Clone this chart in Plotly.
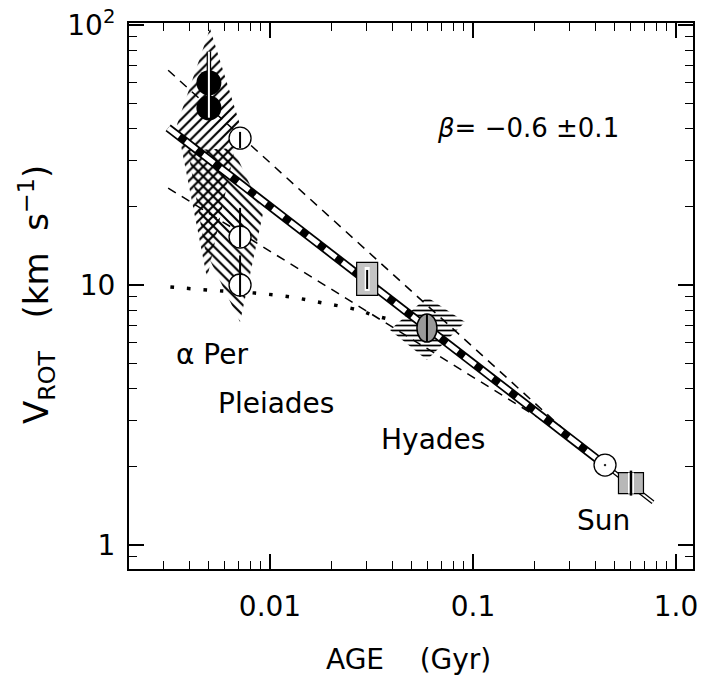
import plotly.graph_objects as go

# ---------------- data ----------------
# alpha Per hatched region (polygon, age Gyr / v km/s)
aper_poly_x = [0.00506, 0.00712, 0.00490, 0.00348, 0.00506]
aper_poly_y = [97.0, 41.3, 10.6, 41.3, 97.0]
# Pleiades hatched region
plei_poly_x = [0.00394, 0.00658, 0.00924, 0.00712, 0.00479, 0.00394]
plei_poly_y = [33.0, 33.6, 18.9, 7.21, 13.6, 33.0]
# Hyades hatched region
hya_poly_x = [0.0593, 0.0914, 0.0593, 0.0390, 0.0593]
hya_poly_y = [8.99, 7.21, 5.15, 6.71, 8.99]

# alpha Per points (filled circles) and their range bar
aper_age = [0.0050, 0.0050]
aper_v = [59.9, 48.0]
aper_bar = [44.0, 79.0]

# Pleiades points (open circles) and bars
plei_age = [0.00712, 0.00712, 0.00712]
plei_v = [36.7, 15.3, 10.0]
plei_bar_lo = [33.6, 14.0, 9.0]
plei_bar_hi = [38.8, 19.8, 13.0]

# Hyades point
hya_age = [0.0593]
hya_v = [6.83]

# Sun
sun_age = [0.447]
sun_v = [2.03]

# rectangles (stippled boxes)
box_age = [0.0301, 0.60]
box_v = [10.55, 1.73]

# power-law fit (beta = -0.6)
fit_age = [0.00315, 0.447]
fit_v = [40.2, 2.03]
fit_ext_age = [0.447, 0.77]
fit_ext_v = [2.03, 1.46]

# envelope dashed lines
upper_age = [0.00315, 0.30]
upper_v = [67.0, 2.65]
lower_age = [0.00315, 0.30]
lower_v = [23.6, 2.60]

# dotted curve
dot_age = [0.00323, 0.00581, 0.00844, 0.01256, 0.01823, 0.0271, 0.032, 0.0404]
dot_v = [9.82, 9.48, 9.31, 9.0, 8.53, 8.02, 7.67, 7.33]

x_tickvals = [0.01, 0.1, 1.0]
x_ticktext = ["0.01", "0.1", "1.0"]
y_tickvals = [1, 10, 100]
y_ticktext = ["1", "10", "10<sup>2</sup>"]

# ---------------- layout geometry ----------------
W, H = 702, 679
L, R, T, B = 129, 9, 23, 110
PW, PH = W - L - R, H - T - B
XR = [-2.6946, 0.0837]
YR = [-0.0923, 2.0077]
DX = PW / (XR[1] - XR[0])   # pixels per decade (x)
DY = PH / (YR[1] - YR[0])   # pixels per decade (y)


def px(xp, yp):
    return (xp - L) / PW, (H - B - yp) / PH


def span(val, half_px, per_dec):
    f = 10 ** (half_px / per_dec)
    return val / f, val * f


FONT = "DejaVu Sans"
fig = go.Figure()

HATCH = dict(size=7, solidity=0.3, fgcolor="black", fgopacity=1, bgcolor="rgba(0,0,0,0)")

# hatched regions
fig.add_trace(go.Scatter(x=aper_poly_x, y=aper_poly_y, mode="lines", fill="toself",
                         line=dict(width=0), fillcolor="rgba(0,0,0,0)",
                         fillpattern=dict(HATCH, shape="/"),
                         hoverinfo="skip", showlegend=False))
fig.add_trace(go.Scatter(x=plei_poly_x, y=plei_poly_y, mode="lines", fill="toself",
                         line=dict(width=0), fillcolor="rgba(0,0,0,0)",
                         fillpattern=dict(HATCH, shape="\\"),
                         hoverinfo="skip", showlegend=False))
fig.add_trace(go.Scatter(x=hya_poly_x, y=hya_poly_y, mode="lines", fill="toself",
                         line=dict(width=0), fillcolor="rgba(0,0,0,0)",
                         fillpattern=dict(HATCH, shape="-", size=5, solidity=0.35),
                         hoverinfo="skip", showlegend=False))

# dashed envelopes
for xs, ys in [(upper_age, upper_v), (lower_age, lower_v)]:
    fig.add_trace(go.Scatter(x=xs, y=ys, mode="lines",
                             line=dict(color="black", width=1.5, dash="9px,7px"),
                             showlegend=False, hoverinfo="skip"))

# dotted curve
fig.add_trace(go.Scatter(x=dot_age, y=dot_v, mode="lines", line_shape="spline",
                         line=dict(color="black", width=3.5, dash="3.5px,13px"),
                         showlegend=False, hoverinfo="skip"))

# fit rail
fig.add_trace(go.Scatter(x=fit_ext_age, y=fit_ext_v, mode="lines",
                         line=dict(color="black", width=4.5), showlegend=False, hoverinfo="skip"))
fig.add_trace(go.Scatter(x=fit_ext_age, y=fit_ext_v, mode="lines",
                         line=dict(color="white", width=2), showlegend=False, hoverinfo="skip"))
fig.add_trace(go.Scatter(x=fit_age, y=fit_v, mode="lines",
                         line=dict(color="black", width=8.5), showlegend=False, hoverinfo="skip"))
fig.add_trace(go.Scatter(x=fit_age, y=fit_v, mode="lines",
                         line=dict(color="white", width=5, dash="14px,8px"),
                         showlegend=False, hoverinfo="skip"))

# alpha Per
fig.add_trace(go.Scatter(x=aper_age, y=aper_v, mode="markers",
                         marker=dict(symbol="circle", size=25, color="black"),
                         showlegend=False, hoverinfo="skip"))
fig.add_trace(go.Scatter(x=[aper_age[0], aper_age[0]], y=aper_bar, mode="lines",
                         line=dict(color="black", width=4.5), showlegend=False, hoverinfo="skip"))
fig.add_trace(go.Scatter(x=[aper_age[0], aper_age[0]], y=aper_bar, mode="lines",
                         line=dict(color="white", width=2), showlegend=False, hoverinfo="skip"))

# Pleiades
fig.add_trace(go.Scatter(x=plei_age, y=plei_v, mode="markers",
                         marker=dict(symbol="circle", size=22, color="white",
                                     line=dict(color="black", width=1.3)),
                         showlegend=False, hoverinfo="skip"))
bx, by = [], []
for a, lo, hi in zip(plei_age, plei_bar_lo, plei_bar_hi):
    bx += [a, a, None]
    by += [lo, hi, None]
fig.add_trace(go.Scatter(x=bx, y=by, mode="lines", line=dict(color="black", width=2),
                         showlegend=False, hoverinfo="skip"))

# Sun
fig.add_trace(go.Scatter(x=sun_age, y=sun_v, mode="markers",
                         marker=dict(symbol="circle-dot", size=22, color="white",
                                     line=dict(color="black", width=1.3)),
                         showlegend=False, hoverinfo="skip"))

shapes = []


def rect(kind, age, v, hw, hh, fill, lw=0, lc="black"):
    x0, x1 = span(age, hw, DX)
    y0, y1 = span(v, hh, DY)
    d = dict(type=kind, xref="x", yref="y", x0=x0, x1=x1, y0=y0, y1=y1,
             fillcolor=fill, line=dict(color=lc, width=lw), layer="above")
    shapes.append(d)


def vline(age, v, hh_top, hh_bot, lw):
    y0 = v / 10 ** (hh_bot / DY)
    y1 = v * 10 ** (hh_top / DY)
    shapes.append(dict(type="line", xref="x", yref="y", x0=age, x1=age, y0=y0, y1=y1,
                       line=dict(color="black", width=lw), layer="above"))


# Hyades: stippled ellipse with vertical line
rect("circle", hya_age[0], hya_v[0], 10, 14, "#999999", 1.5)
vline(hya_age[0], hya_v[0], 14, 14, 2)
# box 1
rect("rect", box_age[0], box_v[0], 10.5, 16.5, "#c4c4c4", 1.2)
rect("rect", box_age[0], box_v[0], 2.5, 12, "white")
vline(box_age[0], box_v[0], 9, 10, 2)
# box 2
rect("rect", box_age[1], box_v[1], 12.5, 10.5, "#b8b8b8", 1.2)
rect("rect", box_age[1], box_v[1], 3, 10.5, "white")
vline(box_age[1], box_v[1], 12.5, 12.5, 2.5)

annotations = []


def label(text, xp, yp, size=28, angle=0):
    xx, yy = px(xp, yp)
    annotations.append(dict(text=text, x=xx, y=yy, xref="paper", yref="paper",
                            xanchor="center", yanchor="middle", showarrow=False,
                            textangle=angle, font=dict(family=FONT, size=size, color="black")))


label("α Per", 212, 354)
label("Pleiades", 276, 403)
label("Hyades", 433, 439)
label("Sun", 603, 520)
label("<i>β</i>= −0.6 ±0.1", 528, 128, size=26)
label("AGE\u00a0\u00a0\u00a0\u00a0(Gyr)", 408, 659)
label("V<sub>ROT</sub>\u00a0\u00a0\u00a0(km\u00a0\u00a0s<sup>−1</sup>)", 36, 295, size=34, angle=-90)

x_minor = [0.003, 0.004, 0.005, 0.006, 0.007, 0.008, 0.009,
           0.02, 0.03, 0.04, 0.05, 0.06, 0.07, 0.08, 0.09,
           0.2, 0.3, 0.4, 0.5, 0.6, 0.7, 0.8, 0.9]
y_minor = [0.9, 2, 3, 4, 5, 6, 7, 8, 9, 20, 30, 40, 50, 60, 70, 80, 90]

axis_common = dict(type="log", showline=True, linecolor="black", linewidth=2,
                   mirror="allticks", ticks="inside", ticklen=15, tickwidth=1.6,
                   tickcolor="black", showgrid=False, zeroline=False,
                   tickfont=dict(family=FONT, size=28, color="black"))

fig.update_layout(
    width=W, height=H, margin=dict(l=L, r=R, t=T, b=B, autoexpand=False),
    paper_bgcolor="white", plot_bgcolor="white", showlegend=False,
    xaxis=dict(axis_common, range=XR, tickmode="array",
               tickvals=x_tickvals, ticktext=x_ticktext, ticklabelstandoff=11,
               minor=dict(tickmode="array", tickvals=x_minor, ticks="inside", ticklen=8,
                          tickwidth=1.4, tickcolor="black", showgrid=False)),
    yaxis=dict(axis_common, range=YR, tickmode="array",
               tickvals=y_tickvals, ticktext=y_ticktext, ticklabelstandoff=6,
               minor=dict(tickmode="array", tickvals=y_minor, ticks="inside", ticklen=8,
                          tickwidth=1.4, tickcolor="black", showgrid=False)),
    shapes=shapes, annotations=annotations,
)

fig.write_html("out.html", config={"displayModeBar": False},
               post_script="document.body.style.margin='0px';")
